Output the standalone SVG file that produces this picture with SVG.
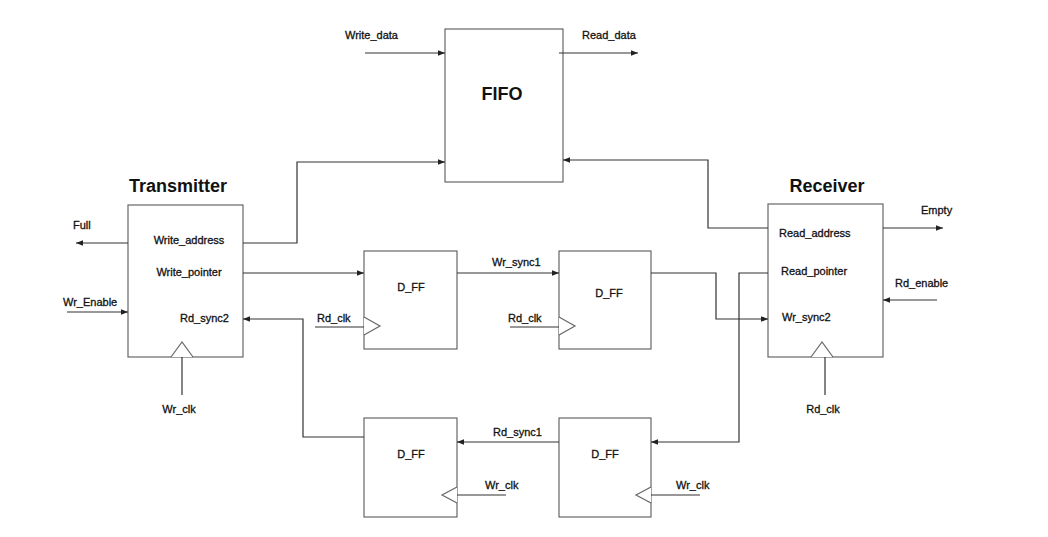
<svg xmlns="http://www.w3.org/2000/svg" width="1048" height="537" viewBox="0 0 1048 537">
<style>
.box{fill:#fff;stroke:#666;stroke-width:1.2}
.clk{fill:#fff;stroke:#666;stroke-width:1.2}
.w{fill:none;stroke:#333;stroke-width:1.2}
.lbl{font-family:"Liberation Sans",Arial,sans-serif;font-size:11px;fill:#111;stroke:#111;stroke-width:0.3}
.ttl{font-family:"Liberation Sans",Arial,sans-serif;font-size:18px;font-weight:bold;fill:#111}
</style>
<defs>
<marker id="ah" markerUnits="userSpaceOnUse" markerWidth="8" markerHeight="8" refX="7" refY="4" orient="auto">
<path d="M0,1.2 L7,4 L0,6.8 Z" fill="#222"/>
</marker>
</defs>
<rect width="1048" height="537" fill="#fff"/>

<g id="fifo">
<rect class="box" x="445" y="29" width="118" height="153"/>
<text class="ttl" x="502" y="100" text-anchor="middle">FIFO</text>
</g>

<g id="transmitter">
<text class="ttl" x="178" y="192" text-anchor="middle">Transmitter</text>
<rect class="box" x="128" y="205" width="115" height="152"/>
<path class="clk" d="M171,357 L182,342 L193,357"/>
<text class="lbl" x="189" y="244" text-anchor="middle">Write_address</text>
<text class="lbl" x="189" y="276" text-anchor="middle">Write_pointer</text>
<text class="lbl" x="180" y="322">Rd_sync2</text>
</g>

<g id="receiver">
<text class="ttl" x="827" y="192" text-anchor="middle">Receiver</text>
<rect class="box" x="768" y="204" width="115" height="153"/>
<path class="clk" d="M811,357 L822,342 L833,357"/>
<text class="lbl" x="779" y="237">Read_address</text>
<text class="lbl" x="781" y="275">Read_pointer</text>
<text class="lbl" x="782" y="321">Wr_sync2</text>
</g>

<g id="dff1">
<rect class="box" x="364" y="251" width="93" height="98"/>
<path class="clk" d="M364,317 L380,326 L364,335"/>
<text class="lbl" x="411" y="291" text-anchor="middle">D_FF</text>
</g>

<g id="dff2">
<rect class="box" x="559" y="251" width="92" height="98"/>
<path class="clk" d="M559,317 L575,326 L559,335"/>
<text class="lbl" x="609" y="297" text-anchor="middle">D_FF</text>
</g>

<g id="dff3">
<rect class="box" x="364" y="418" width="93" height="99"/>
<path class="clk" d="M457,487 L442,495 L457,503"/>
<text class="lbl" x="411" y="458" text-anchor="middle">D_FF</text>
</g>

<g id="dff4">
<rect class="box" x="559" y="418" width="92" height="99"/>
<path class="clk" d="M651,487 L636,495 L651,503"/>
<text class="lbl" x="605" y="458" text-anchor="middle">D_FF</text>
</g>

<g id="connectors">
<path class="w" d="M365,53 L445,53" marker-end="url(#ah)"/>
<text class="lbl" x="345" y="39">Write_data</text>
<path class="w" d="M559,53 L638,53" marker-end="url(#ah)"/>
<text class="lbl" x="582" y="39">Read_data</text>

<path class="w" d="M243,243 L297,243 L297,162 L445,162" marker-end="url(#ah)"/>
<path class="w" d="M768,228 L708,228 L708,160 L563,160" marker-end="url(#ah)"/>

<path class="w" d="M128,243 L76,243" marker-end="url(#ah)"/>
<text class="lbl" x="73" y="229">Full</text>
<path class="w" d="M67,312 L128,312" marker-end="url(#ah)"/>
<text class="lbl" x="63" y="306">Wr_Enable</text>
<path class="w" d="M182,357 L182,395"/>
<text class="lbl" x="179" y="413" text-anchor="middle">Wr_clk</text>

<path class="w" d="M883,228 L943,228" marker-end="url(#ah)"/>
<text class="lbl" x="921" y="214">Empty</text>
<path class="w" d="M937,300 L883,300" marker-end="url(#ah)"/>
<text class="lbl" x="895" y="287">Rd_enable</text>
<path class="w" d="M825,357 L825,395"/>
<text class="lbl" x="823" y="413" text-anchor="middle">Rd_clk</text>

<path class="w" d="M243,273 L364,273" marker-end="url(#ah)"/>
<path class="w" d="M457,273 L559,273" marker-end="url(#ah)"/>
<text class="lbl" x="492" y="266">Wr_sync1</text>
<path class="w" d="M651,273 L716,273 L716,319 L768,319" marker-end="url(#ah)"/>

<path class="w" d="M315,327 L364,327"/>
<text class="lbl" x="317" y="322">Rd_clk</text>
<path class="w" d="M510,327 L559,327"/>
<text class="lbl" x="508" y="322">Rd_clk</text>

<path class="w" d="M768,273 L739,273 L739,442 L651,442" marker-end="url(#ah)"/>
<path class="w" d="M559,442 L457,442" marker-end="url(#ah)"/>
<text class="lbl" x="493" y="436">Rd_sync1</text>
<path class="w" d="M364,437 L303,437 L303,319 L243,319" marker-end="url(#ah)"/>

<path class="w" d="M457,495 L506,495"/>
<text class="lbl" x="485" y="489">Wr_clk</text>
<path class="w" d="M651,495 L700,495"/>
<text class="lbl" x="676" y="489">Wr_clk</text>
</g>
</svg>
